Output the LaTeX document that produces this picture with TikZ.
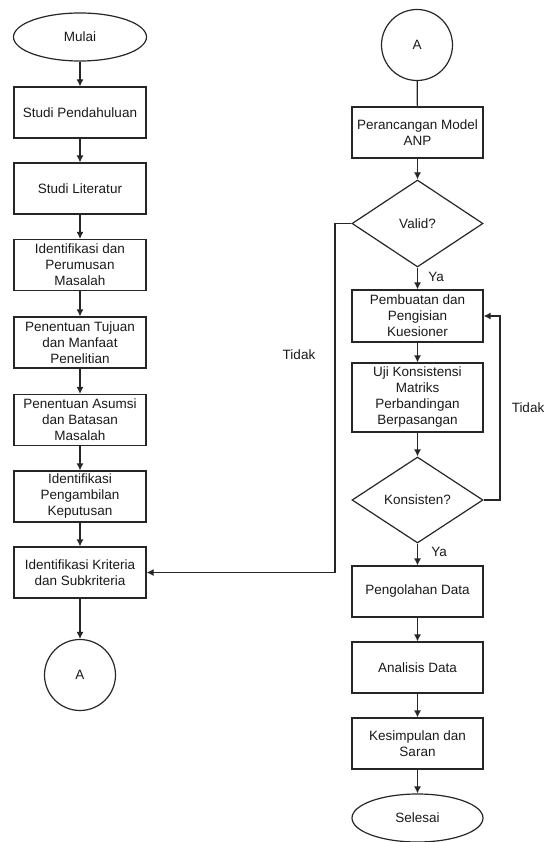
\documentclass[tikz,border=0pt]{standalone}
\usepackage{fontspec}
\setmainfont{Liberation Sans}
\usetikzlibrary{shapes.geometric,arrows.meta}
\begin{document}
\begin{tikzpicture}[x=1pt,y=-1pt,
  every node/.style={font=\fontsize{13.5}{16}\selectfont, text=black!90},
  proc/.style={draw=black!85, line width=1.2pt, rectangle, minimum width=132pt, minimum height=51pt, align=center, inner sep=1pt},
  term/.style={draw=black!85, line width=1.2pt, ellipse, minimum width=133pt, minimum height=48pt, inner sep=0pt},
  conn/.style={draw=black!85, line width=1.2pt, circle, minimum size=71pt, inner sep=0pt},
  dec/.style={draw=black!85, line width=1.2pt, diamond, minimum width=131pt, minimum height=87pt, inner sep=0pt},
  arr/.style={draw=black!85, line width=1.2pt, -{Latex[length=7pt,width=7pt]}},
  lin/.style={draw=black!85, line width=1.2pt},
  lbl/.style={font=\fontsize{13.5}{16}\selectfont}
]
\useasboundingbox (0,0) rectangle (550,842);
% left column
\node[term] (mulai) at (80,37) {Mulai};
\node[proc] (sp) at (80,112.5) {Studi Pendahuluan};
\node[proc] (sl) at (80,188.5) {Studi Literatur};
\node[proc] (ipm) at (80,265) {Identifikasi dan\\Perumusan\\Masalah};
\node[proc] (ptm) at (80,342.5) {Penentuan Tujuan\\dan Manfaat\\Penelitian};
\node[proc] (pab) at (80,420) {Penentuan Asumsi\\dan Batasan\\Masalah};
\node[proc] (ipk) at (80,496.5) {Identifikasi\\Pengambilan\\Keputusan};
\node[proc] (iks) at (80,572.5) {Identifikasi Kriteria\\dan Subkriteria};
\node[conn] (a1) at (80,675) {A};
% right column
\node[conn] (a2) at (417,45) {A};
\node[proc, minimum width=131pt] (pma) at (417.5,132.5) {Perancangan Model\\ANP};
\node[dec] (valid) at (417.5,223.5) {Valid?};
\node[proc, minimum width=131pt, minimum height=52pt] (ppk) at (417.5,316) {Pembuatan dan\\Pengisian\\Kuesioner};
\node[proc, minimum width=131pt, minimum height=69pt] (uji) at (417.5,397.5) {Uji Konsistensi\\Matriks\\Perbandingan\\Berpasangan};
\node[dec, minimum height=86pt] (kon) at (417.5,500) {Konsisten?};
\node[proc, minimum width=131pt] (pd) at (417.5,591.5) {Pengolahan Data};
\node[proc, minimum width=131pt] (ad) at (417.5,667.5) {Analisis Data};
\node[proc, minimum width=131pt] (ks) at (417.5,743.5) {Kesimpulan dan\\Saran};
\node[term, minimum width=131pt] (sel) at (417.5,818) {Selesai};
% connectors left
\draw[arr] (mulai) -- (sp);
\draw[arr] (sp) -- (sl);
\draw[arr] (sl) -- (ipm);
\draw[arr] (ipm) -- (ptm);
\draw[arr] (ptm) -- (pab);
\draw[arr] (pab) -- (ipk);
\draw[arr] (ipk) -- (iks);
\draw[arr] (iks) -- (a1);
% connectors right
\draw[lin] (a2) -- (pma);
\draw[arr] (pma) -- (valid);
\draw[arr] (valid) -- (ppk);
\draw[arr] (ppk) -- (uji);
\draw[arr] (uji) -- (kon);
\draw[arr] (kon) -- (pd);
\draw[arr] (pd) -- (ad);
\draw[arr] (ad) -- (ks);
\draw[arr] (ks) -- (sel);
% loops
\coordinate (kr) at (500,500);
\draw[arr] (kon.east) -- (kr) |- (ppk.east);
\coordinate (vl) at (335,223.5);
\draw[arr] (valid.west) -- (vl) |- (iks.east);
% labels
\node[lbl] (ya1) at (436,277) {Ya};
\node[lbl] (ya2) at (439,552) {Ya};
\node[lbl] (t1) at (299,355) {Tidak};
\node[lbl] (t2) at (528,408) {Tidak};
\end{tikzpicture}
\end{document}
